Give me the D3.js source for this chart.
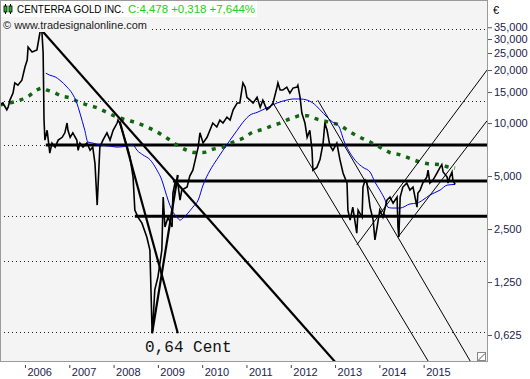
<!DOCTYPE html>
<html>
<head>
<meta charset="utf-8">
<script src="https://cdn.jsdelivr.net/npm/d3@7"></script>
<style>
  body { margin: 0; background: #fff; }
</style>
</head>
<body>
<div id="chart"></div>
<script>
// price as [decimal year, EUR]
const priceSeries = [
  [2005.44,12.7],[2005.50,13.0],[2005.59,11.9],[2005.62,12.3],[2005.66,13.5],[2005.73,14.8],[2005.77,16.9],[2005.84,16.4],
  [2005.93,17.5],[2006.00,20.8],[2006.05,22.8],[2006.07,27.0],[2006.16,25.3],[2006.27,26.0],[2006.34,32.9],[2006.38,33.7],
  [2006.41,25.0],[2006.43,10.4],[2006.45,8.0],[2006.50,9.1],[2006.56,6.75],[2006.61,7.7],[2006.68,7.3],[2006.75,8.0],
  [2006.84,8.3],[2006.90,8.8],[2006.95,10.0],[2006.97,9.1],[2007.02,8.3],[2007.08,8.8],[2007.17,8.0],[2007.20,7.0],
  [2007.24,7.7],[2007.31,7.3],[2007.40,7.7],[2007.47,7.0],[2007.53,7.3],[2007.58,5.9],[2007.63,3.42],[2007.69,7.3],
  [2007.76,8.0],[2007.85,8.8],[2007.92,8.0],[2007.99,9.1],[2008.08,10.0],[2008.10,10.4],[2008.14,10.0],[2008.19,9.1],
  [2008.26,8.0],[2008.33,7.0],[2008.37,6.4],[2008.44,4.93],[2008.48,3.2],[2008.55,2.92],[2008.64,2.70],[2008.75,2.25],
  [2008.82,1.90],[2008.87,0.64],[2008.89,0.73],[2008.93,1.13],[2009.00,1.33],[2009.09,1.90],[2009.12,3.8],[2009.16,2.57],
  [2009.23,2.92],[2009.32,2.57],[2009.34,4.0],[2009.39,4.62],[2009.45,4.56],[2009.50,3.65],[2009.54,4.16],[2009.66,4.33],
  [2009.72,5.0],[2009.79,5.4],[2009.91,7.3],[2009.95,8.8],[2010.02,7.7],[2010.11,8.3],[2010.24,10.0],[2010.33,9.5],
  [2010.40,10.4],[2010.47,10.0],[2010.56,10.8],[2010.63,10.4],[2010.70,11.9],[2010.79,13.0],[2010.85,13.0],[2010.92,16.9],
  [2010.97,16.0],[2011.01,14.0],[2011.08,13.5],[2011.15,13.0],[2011.24,14.0],[2011.31,12.3],[2011.37,13.5],[2011.46,11.9],
  [2011.53,12.3],[2011.60,13.0],[2011.69,16.0],[2011.71,16.9],[2011.76,15.4],[2011.82,15.4],[2011.91,16.0],[2011.98,14.8],
  [2012.05,15.8],[2012.14,16.0],[2012.16,16.4],[2012.21,14.0],[2012.25,11.4],[2012.32,10.0],[2012.37,8.3],[2012.43,9.1],
  [2012.48,7.0],[2012.50,5.4],[2012.59,5.6],[2012.66,6.2],[2012.73,7.7],[2012.77,10.0],[2012.82,9.1],[2012.88,7.5],
  [2012.95,7.0],[2013.04,7.7],[2013.11,6.2],[2013.18,5.2],[2013.27,4.56],[2013.29,3.2],[2013.34,2.81],[2013.40,3.33],
  [2013.49,2.37],[2013.52,3.2],[2013.61,2.92],[2013.63,4.33],[2013.68,4.74],[2013.72,4.56],[2013.79,3.33],[2013.86,2.81],
  [2013.90,2.17],[2013.95,2.57],[2014.01,3.2],[2014.08,2.92],[2014.17,3.65],[2014.24,3.8],[2014.31,3.51],[2014.40,3.8],
  [2014.42,2.57],[2014.44,2.25],[2014.47,3.8],[2014.53,4.33],[2014.62,4.56],[2014.69,4.16],[2014.76,4.33],[2014.85,3.33],
  [2014.87,4.0],[2014.92,4.16],[2014.98,4.56],[2015.07,4.93],[2015.10,5.4],[2015.14,4.56],[2015.21,4.74],[2015.30,5.2],
  [2015.37,5.6],[2015.41,5.8],[2015.44,5.27],[2015.53,4.93],[2015.55,4.56],[2015.59,4.93],[2015.64,5.27],[2015.66,4.74],
  [2015.71,4.48]
];

// blue moving average
const maFast = [
  [2006.47,19.2],[2006.56,18.7],[2006.68,18.3],[2006.79,17.5],[2006.95,16.0],[2007.06,14.8],[2007.17,13.0],[2007.24,11.4],
  [2007.35,9.1],[2007.42,7.8],[2007.53,7.7],[2007.69,7.5],[2007.92,7.4],[2008.08,7.3],[2008.30,7.4],[2008.44,7.5],
  [2008.53,7.0],[2008.66,6.6],[2008.82,6.2],[2008.98,5.4],[2009.09,4.74],[2009.16,4.16],[2009.23,3.65],[2009.32,3.2],
  [2009.43,2.92],[2009.50,2.81],[2009.57,2.89],[2009.68,3.08],[2009.79,3.33],[2009.91,3.65],[2010.02,4.44],[2010.18,5.4],
  [2010.33,6.2],[2010.47,7.0],[2010.63,8.0],[2010.79,9.1],[2010.92,10.1],[2011.08,11.1],[2011.24,11.5],[2011.46,12.2],
  [2011.69,13.0],[2011.91,13.5],[2012.05,13.7],[2012.21,13.7],[2012.37,13.5],[2012.50,13.0],[2012.66,11.9],[2012.82,10.8],
  [2012.95,10.1],[2013.07,9.7],[2013.22,7.7],[2013.34,6.75],[2013.49,6.0],[2013.63,5.6],[2013.79,5.27],[2013.90,4.62],
  [2014.01,4.16],[2014.13,3.65],[2014.19,3.33],[2014.28,3.29],[2014.47,3.29],[2014.69,3.47],[2014.85,3.51],[2014.98,3.65],
  [2015.14,3.9],[2015.37,4.16],[2015.53,4.44],[2015.71,4.48]
];

// green dotted moving average
const maSlow = [
  [2005.44,12.7],[2005.66,13.0],[2005.89,13.5],[2006.11,14.4],[2006.27,15.4],[2006.38,15.8],[2006.50,15.4],[2006.63,15.0],
  [2006.84,14.2],[2007.02,13.9],[2007.20,13.2],[2007.40,12.7],[2007.63,12.2],[2007.85,11.5],[2008.08,10.8],[2008.30,10.4],
  [2008.53,10.0],[2008.75,9.5],[2008.98,8.9],[2009.21,8.2],[2009.43,7.5],[2009.66,7.0],[2009.84,6.8],[2010.02,6.8],
  [2010.24,7.1],[2010.47,7.3],[2010.70,7.8],[2010.92,8.2],[2011.15,8.9],[2011.37,9.2],[2011.60,9.7],[2011.76,10.0],
  [2011.91,10.4],[2012.05,10.7],[2012.21,11.0],[2012.37,11.0],[2012.50,10.7],[2012.66,10.4],[2012.88,10.1],[2013.11,9.7],
  [2013.34,8.9],[2013.56,8.3],[2013.79,7.8],[2014.01,7.3],[2014.24,6.8],[2014.47,6.6],[2014.69,6.3],[2014.92,6.0],
  [2015.14,5.85],[2015.37,5.8],[2015.59,5.6],[2015.71,5.55]
];

// horizontal support / resistance levels
const levelValues = [7.5, 4.68, 2.96];
const levelStarts = [2006.47, 2009.34, 2008.48];

// drawn trend lines, [[year, EUR], [year, EUR]]
const thickTrends = [
  [[2006.36, 34.0], [2013.0, 0.44]],
  [[2008.14, 10.2], [2009.45, 0.64]],
  [[2008.87, 0.64], [2009.45, 5.07]]
];
const thinTrends = [
  [[2011.60, 13.0], [2015.10, 0.445]],
  [[2012.61, 13.5], [2016.05, 0.445]],
  [[2013.49, 2.03], [2016.43, 20.0]],
  [[2014.42, 2.25], [2016.43, 10.3]]
];

const gridValues = [0.65, 1.645, 2.96, 7.5, 13.4, 34.2];
const yTicks = [0.625, 1.25, 2.5, 5, 10, 15, 20, 25, 30, 35];
const yTickLabels = ["0,625", "1,250", "2,500", "5,000", "10,000", "15,000", "20,000", "25,000", "30,000", "35,000"];
const years = [2006, 2007, 2008, 2009, 2010, 2011, 2012, 2013, 2014, 2015];

const titleText = "CENTERRA GOLD INC.";
const quoteText = "C:4,478 +0,318 +7,644%";
const sourceText = "\u00A9 www.tradesignalonline.com";
const currencyText = "\u20AC";
const lowPoint = [2008.87, 0.64];
const lowText = "0,64 Cent";

const width = 530, height = 379;
const plotW = 487, plotH = 361;

const svg = d3.select("#chart").append("svg")
  .attr("width", width)
  .attr("height", height)
  .style("display", "block");

svg.append("rect").attr("width", width).attr("height", height).attr("fill", "#fff");

const x = d3.scaleLinear().domain([2005.436, 2016.43]).range([0, plotW]);
const y = d3.scaleLog().domain([0.445, 50]).range([plotH, 0]);

// plot background
svg.append("rect")
  .attr("x", 0.5).attr("y", 0.5)
  .attr("width", plotW).attr("height", plotH)
  .attr("fill", "#f4f4f4");

svg.append("clipPath").attr("id", "plotClip")
  .append("rect").attr("x", 1).attr("y", 1).attr("width", plotW - 1).attr("height", plotH - 1);

const plot = svg.append("g").attr("clip-path", "url(#plotClip)");

// dotted grid
plot.selectAll(".grid").data(gridValues).enter().append("line")
  .attr("x1", 0).attr("x2", plotW)
  .attr("y1", d => Math.round(y(d)) + 0.5).attr("y2", d => Math.round(y(d)) + 0.5)
  .attr("stroke", "#222").attr("stroke-width", 1)
  .attr("stroke-dasharray", "1,3");

// horizontal levels
plot.selectAll(".level").data(levelValues).enter().append("line")
  .attr("x1", (d, i) => x(levelStarts[i])).attr("x2", plotW)
  .attr("y1", d => y(d)).attr("y2", d => y(d))
  .attr("stroke", "#000").attr("stroke-width", 3);

const line = d3.line().x(d => x(d[0])).y(d => y(d[1]));

// slow MA (green dotted)
plot.append("path")
  .datum(maSlow)
  .attr("fill", "none")
  .attr("stroke", "#116611")
  .attr("stroke-width", 3.5)
  .attr("stroke-dasharray", "4,6")
  .attr("d", line.curve(d3.curveMonotoneX));

// fast MA (blue)
plot.append("path")
  .datum(maFast)
  .attr("fill", "none")
  .attr("stroke", "#0000ee")
  .attr("stroke-width", 1)
  .attr("d", line.curve(d3.curveMonotoneX));

// price
plot.append("path")
  .datum(priceSeries)
  .attr("fill", "none")
  .attr("stroke", "#000")
  .attr("stroke-width", 1.6)
  .attr("stroke-linejoin", "miter")
  .attr("d", line.curve(d3.curveLinear));

// trend lines
plot.selectAll(".thick").data(thickTrends).enter().append("line")
  .attr("x1", d => x(d[0][0])).attr("y1", d => y(d[0][1]))
  .attr("x2", d => x(d[1][0])).attr("y2", d => y(d[1][1]))
  .attr("stroke", "#000").attr("stroke-width", 2.2);

plot.selectAll(".thin").data(thinTrends).enter().append("line")
  .attr("x1", d => x(d[0][0])).attr("y1", d => y(d[0][1]))
  .attr("x2", d => x(d[1][0])).attr("y2", d => y(d[1][1]))
  .attr("stroke", "#000").attr("stroke-width", 1);

// low annotation
plot.append("text")
  .attr("x", x(lowPoint[0]) - 7)
  .attr("y", y(lowPoint[1]) + 19)
  .style("font-family", "'Liberation Mono', 'DejaVu Sans Mono', monospace")
  .style("font-size", "16px")
  .style("fill", "#111")
  .text(lowText);

// header
svg.append("rect").attr("x", 1).attr("y", 1).attr("width", 256).attr("height", 16).attr("fill", "#fff");
svg.append("rect").attr("x", 1).attr("y", 17).attr("width", 148).attr("height", 15).attr("fill", "#f4f4f4");

const icon = svg.append("g").attr("transform", "translate(4,4)");
[0, 5].forEach(dx => {
  icon.append("line").attr("x1", dx + 1.5).attr("x2", dx + 1.5).attr("y1", 0).attr("y2", 10)
    .attr("stroke", "#000").attr("stroke-width", 1);
  icon.append("rect").attr("x", dx).attr("y", 2).attr("width", 3).attr("height", 6)
    .attr("fill", "#22bb22").attr("stroke", "#000").attr("stroke-width", 0.8);
});

svg.append("text")
  .attr("x", 17).attr("y", 13)
  .attr("textLength", 107).attr("lengthAdjust", "spacingAndGlyphs")
  .style("font-family", "'Liberation Sans', Arial, sans-serif")
  .style("font-size", "11px")
  .style("fill", "#000")
  .text(titleText);

svg.append("text")
  .attr("x", 128).attr("y", 13)
  .attr("textLength", 127).attr("lengthAdjust", "spacingAndGlyphs")
  .style("font-family", "'Liberation Sans', Arial, sans-serif")
  .style("font-size", "11px")
  .style("fill", "#22cc22")
  .text(quoteText);

svg.append("text")
  .attr("x", 3).attr("y", 29)
  .attr("textLength", 144).attr("lengthAdjust", "spacingAndGlyphs")
  .style("font-family", "'Liberation Sans', Arial, sans-serif")
  .style("font-size", "11px")
  .style("fill", "#222")
  .text(sourceText);

// plot border
svg.append("rect")
  .attr("x", 0.5).attr("y", 0.5)
  .attr("width", plotW).attr("height", plotH)
  .attr("fill", "none").attr("stroke", "#9a9a9a");

// resize glyph in the corner
svg.append("rect").attr("x", plotW - 9.5).attr("y", plotH - 8.5).attr("width", 8).attr("height", 8)
  .attr("fill", "#fff").attr("stroke", "#888");
svg.append("line").attr("x1", plotW - 8.5).attr("y1", plotH - 1).attr("x2", plotW - 2).attr("y2", plotH - 7.5)
  .attr("stroke", "#555");

// y axis (right)
const yAxis = svg.append("g")
  .attr("transform", `translate(${plotW + 1},0)`)
  .call(d3.axisRight(y).tickValues(yTicks).tickFormat((d, i) => yTickLabels[i]).tickSize(4).tickPadding(2));
yAxis.select(".domain").remove();
yAxis.selectAll("line").attr("stroke", "#555");
yAxis.selectAll("text")
  .style("font-family", "'Liberation Sans', Arial, sans-serif")
  .style("font-size", "11px")
  .style("fill", "#1c1c4c");

svg.append("text")
  .attr("x", plotW + 6).attr("y", 14)
  .style("font-family", "'Liberation Sans', Arial, sans-serif")
  .style("font-size", "11px")
  .style("fill", "#000")
  .text(currencyText);

// x axis (years)
const xAxis = svg.append("g")
  .attr("transform", `translate(0,${plotH + 4})`)
  .call(d3.axisBottom(x).tickValues(years).tickFormat(d => d).tickSize(3));
xAxis.select(".domain").remove();
xAxis.selectAll("line").attr("stroke", "#444");
xAxis.selectAll("text")
  .attr("x", 2).attr("y", 3)
  .attr("text-anchor", "start")
  .style("font-family", "'Liberation Sans', Arial, sans-serif")
  .style("font-size", "11px")
  .style("fill", "#1c1c4c");
</script>
</body>
</html>
